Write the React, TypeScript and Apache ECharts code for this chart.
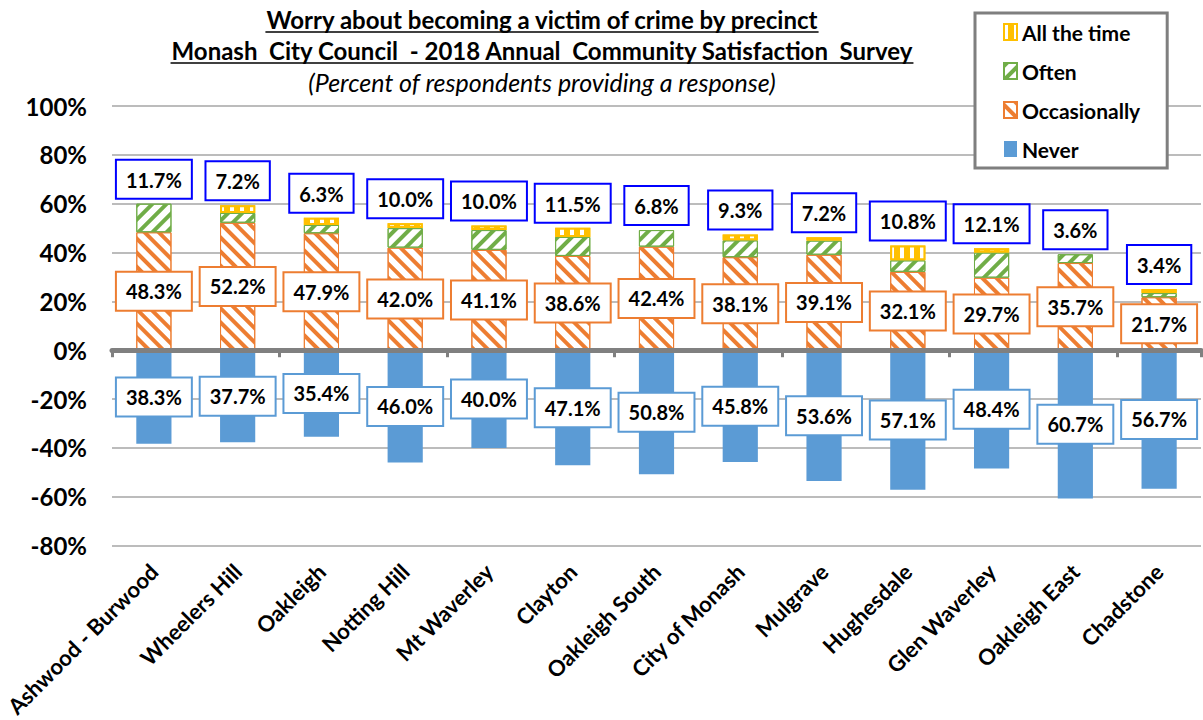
import React, { useEffect, useRef } from "react";
import * as echarts from "echarts";

const categories = [
  "Ashwood - Burwood", "Wheelers Hill", "Oakleigh", "Notting Hill", "Mt Waverley",
  "Clayton", "Oakleigh South", "City of Monash", "Mulgrave", "Hughesdale",
  "Glen Waverley", "Oakleigh East", "Chadstone",
];
const never = [38.3, 37.7, 35.4, 46.0, 40.0, 47.1, 50.8, 45.8, 53.6, 57.1, 48.4, 60.7, 56.7];
const occasionally = [48.3, 52.2, 47.9, 42.0, 41.1, 38.6, 42.4, 38.1, 39.1, 32.1, 29.7, 35.7, 21.7];
const often = [11.7, 4.0, 3.4, 8.0, 8.1, 7.8, 6.8, 6.9, 5.8, 4.7, 10.3, 3.6, 1.7];
const allTheTime = [0, 3.2, 2.9, 2.0, 1.9, 3.7, 0, 2.4, 1.4, 6.1, 1.8, 0, 1.7];
const yTicks = { min: -80, max: 100, interval: 20 };

const TITLE1 = "Worry about becoming a victim of crime by precinct";
const TITLE2 = "Monash  City Council  - 2018 Annual  Community Satisfaction  Survey";
const TITLE3 = "(Percent of respondents providing a response)";

const FONT = "Lato";

function measure(text: string, font: string): number {
  const ctx = document.createElement("canvas").getContext("2d");
  if (!ctx) return text.length * 10;
  ctx.font = font;
  return ctx.measureText(text).width;
}

const labelBox = (border: string) => ({
  show: true,
  fontFamily: FONT,
  fontSize: 20,
  fontWeight: "bold" as const,
  color: "#000",
  backgroundColor: "#fff",
  borderColor: border,
  borderWidth: 2,
  padding: [8, 9, 7, 9],
  lineHeight: 22,
});

export default function App() {
  const ref = useRef<HTMLDivElement>(null);
  useEffect(() => {
    if (!ref.current) return;
    const chart = echarts.init(ref.current, null, { renderer: "svg" });
    const cx = 542;
    const f1 = `bold 24px ${FONT}`;
    const f3 = `italic 25px ${FONT}`;
    const w1 = measure(TITLE1, f1);
    const w2 = measure(TITLE2, f1);

    const option = {
      animation: false,
      textStyle: { fontFamily: FONT },
      grid: { left: 112, right: 2, top: 106, bottom: 171 },
      legend: {
        orient: "vertical",
        left: 975,
        top: 13,
        data: ["All the time", "Often", "Occasionally", "Never"],
        backgroundColor: "#fff",
        borderColor: "#7F7F7F",
        borderWidth: 3,
        padding: [8, 27, 8, 28],
        itemGap: 17,
        itemWidth: 13,
        itemHeight: 16,
        icon: "rect",
        textStyle: { fontFamily: FONT, fontSize: 21, fontWeight: "bold", color: "#000", lineHeight: 22 },
        z: 10,
      },
      graphic: [
        { type: "text", x: cx, y: 19, style: { text: TITLE1, font: f1, fontFamily: FONT, fontSize: 24, fontWeight: "bold", align: "center", textAlign: "center", verticalAlign: "middle", textVerticalAlign: "middle", fill: "#000" } },
        { type: "line", shape: { x1: cx - w1 / 2, y1: 32, x2: cx + w1 / 2, y2: 32 }, style: { stroke: "#000", lineWidth: 1.6 } },
        { type: "text", x: cx, y: 50, style: { text: TITLE2, font: f1, fontFamily: FONT, fontSize: 24, fontWeight: "bold", align: "center", textAlign: "center", verticalAlign: "middle", textVerticalAlign: "middle", fill: "#000" } },
        { type: "line", shape: { x1: cx - w2 / 2, y1: 63, x2: cx + w2 / 2, y2: 63 }, style: { stroke: "#000", lineWidth: 1.6 } },
        { type: "text", x: cx, y: 82, style: { text: TITLE3, font: f3, fontFamily: FONT, fontSize: 25, fontStyle: "italic", align: "center", textAlign: "center", verticalAlign: "middle", textVerticalAlign: "middle", fill: "#000" } },
      ],
      xAxis: [
        {
          type: "category",
          data: categories,
          axisLine: { show: false, onZero: false },
          axisTick: { show: false },
          axisLabel: { rotate: 45, interval: 0, fontFamily: FONT, fontSize: 22, fontWeight: "bold", color: "#000", margin: 22 },
        },
        {
          type: "category",
          data: categories,
          position: "bottom",
          z: 10,
          axisLine: { show: true, onZero: true, lineStyle: { color: "#808080", width: 5 } },
          axisTick: { show: true, length: 7, lineStyle: { color: "#808080", width: 3 } },
          axisLabel: { show: false },
        },
      ],
      yAxis: {
        type: "value",
        min: yTicks.min,
        max: yTicks.max,
        interval: yTicks.interval,
        axisLine: { show: false },
        axisTick: { show: false },
        axisLabel: { formatter: "{value}%", fontFamily: FONT, fontSize: 24, fontWeight: "bold", color: "#000", margin: 25 },
        splitLine: { lineStyle: { color: "#A6A6A6", width: 1.5 } },
      },
      series: [
        {
          name: "Never",
          type: "bar",
          stack: "t",
          barWidth: "42%",
          data: never.map((v) => -v),
          itemStyle: { color: "#5B9BD5" },
          label: { ...labelBox("#5B9BD5"), position: "inside", formatter: (p: any) => `${Math.abs(p.value).toFixed(1)}%` },
        },
        {
          name: "Occasionally",
          type: "bar",
          stack: "t",
          data: occasionally,
          itemStyle: {
            color: "#fff",
            borderColor: "#ED7D31",
            borderWidth: 1,
            decal: { symbol: "rect", symbolSize: 1, color: "#ED7D31", dashArrayX: [1, 0], dashArrayY: [4, 6], rotation: Math.PI / 4 },
          },
          label: { ...labelBox("#ED7D31"), position: "inside", formatter: (p: any) => `${p.value.toFixed(1)}%` },
        },
        {
          name: "Often",
          type: "bar",
          stack: "t",
          data: often,
          itemStyle: {
            color: "#fff",
            borderColor: "#70AD47",
            borderWidth: 1,
            decal: { symbol: "rect", symbolSize: 1, color: "#70AD47", dashArrayX: [1, 0], dashArrayY: [4, 6], rotation: -Math.PI / 4 },
          },
          label: { show: false },
        },
        {
          name: "All the time",
          type: "bar",
          stack: "t",
          data: allTheTime.map((v) => (v > 0 ? v : { value: v, itemStyle: { borderWidth: 0 } })),
          itemStyle: {
            color: "#FFC000",
            borderColor: "#FFC000",
            borderWidth: 2,
            decal: { symbol: "rect", symbolSize: 1, color: "#fff", dashArrayX: [4, 6], dashArrayY: [1, 0], rotation: 0 },
          },
          label: {
            ...labelBox("#0000FF"),
            position: "top",
            distance: 6,
            formatter: (p: any) => `${(often[p.dataIndex] + allTheTime[p.dataIndex]).toFixed(1)}%`,
          },
        },
      ],
    };
    chart.setOption(option as any);
    return () => chart.dispose();
  }, []);
  return <div ref={ref} style={{ position: "fixed", left: 0, top: 0, width: 1203, height: 720, background: "#fff" }} />;
}
